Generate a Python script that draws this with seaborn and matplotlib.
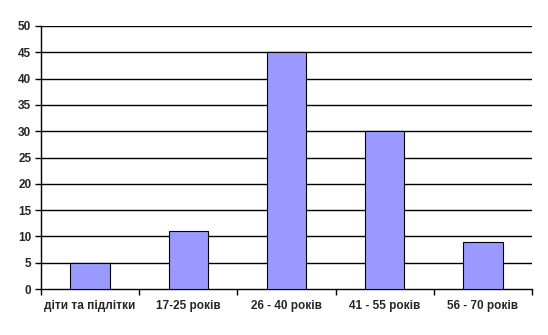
import matplotlib
matplotlib.use("Agg")
import matplotlib.pyplot as plt
import seaborn as sns
import pandas as pd
import numpy as np

categories = ["діти та підлітки", "17-25 років", "26 - 40 років", "41 - 55 років", "56 - 70 років"]
values = [5, 11, 45, 30, 9]
yticks = [0, 5, 10, 15, 20, 25, 30, 35, 40, 45, 50]

sns.set_style("white")
plt.rcParams['font.family'] = ['Liberation Sans', 'DejaVu Sans']

df = pd.DataFrame({"cat": categories, "val": values})
fig = plt.figure(figsize=(5.48, 3.35), dpi=100)
ax = fig.add_axes([41/548, 46/335, 491/548, 263/335])
sns.barplot(data=df, x="cat", y="val", color="#9999FF", edgecolor="black",
            linewidth=0.8, width=0.4, saturation=1, ax=ax, zorder=3)
ax.set_xlim(-0.5, len(categories) - 0.5)
ax.set_ylim(0, 50)
ax.set_yticks(yticks)
ax.set_xlabel("")
ax.set_ylabel("")
for y in yticks[1:]:
    ax.axhline(y, color="black", linewidth=1.0, zorder=1)
for s in ["top", "right"]:
    ax.spines[s].set_visible(False)
ax.spines["left"].set_color("black")
ax.spines["bottom"].set_color("black")
ax.spines["left"].set_linewidth(1.0)
ax.spines["bottom"].set_linewidth(1.0)
ax.set_xticks(np.arange(-0.5, len(categories)), minor=True)
ax.tick_params(axis="x", which="major", length=0, pad=8, labelsize=8.5)
ax.tick_params(axis="x", which="minor", length=4, direction="out", color="black", width=1)
ax.tick_params(axis="y", length=4, direction="out", color="black", width=1, labelsize=8.5, pad=3)
ax.tick_params(left=True, bottom=True)
ax.xaxis.set_tick_params(which="minor", bottom=True)
for lbl in ax.get_xticklabels() + ax.get_yticklabels():
    lbl.set_fontweight("bold")
fig.savefig("out.png", dpi=100)
